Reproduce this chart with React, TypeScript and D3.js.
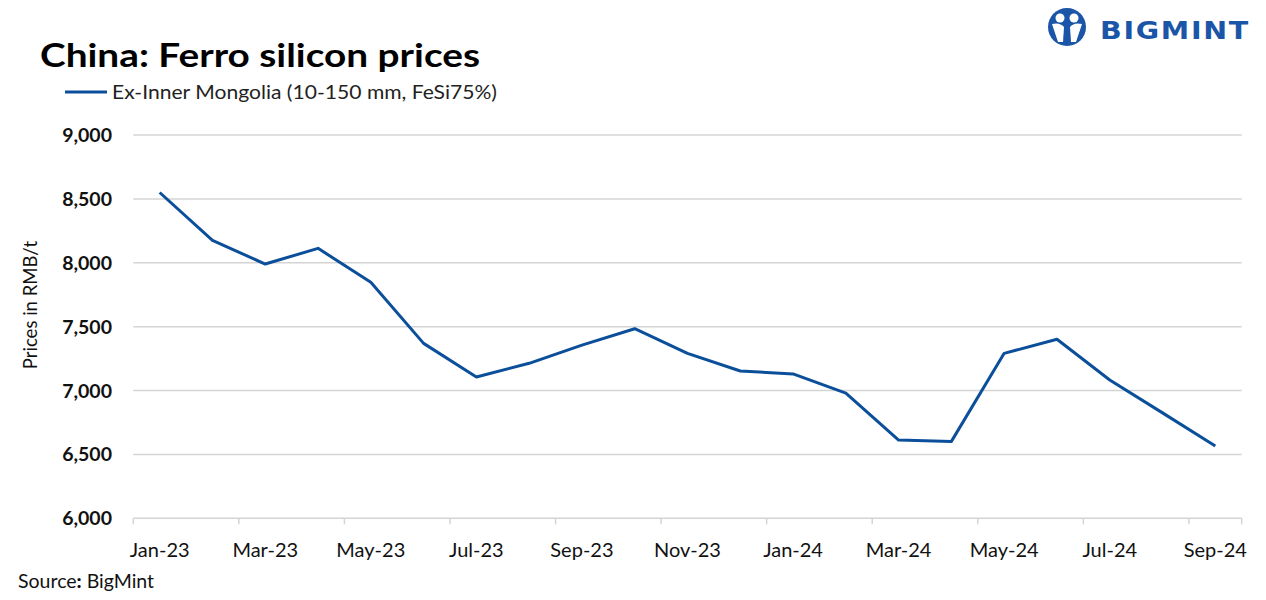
import React from "react";
import * as d3 from "d3";

const months = ["Jan-23","Feb-23","Mar-23","Apr-23","May-23","Jun-23","Jul-23","Aug-23","Sep-23","Oct-23","Nov-23","Dec-23","Jan-24","Feb-24","Mar-24","Apr-24","May-24","Jun-24","Jul-24","Aug-24","Sep-24"];
const prices = [8550,8175,7990,8113,7847,7369,7106,7213,7355,7484,7291,7153,7130,6980,6612,6602,7291,7401,7082,6825,6566];
const yTicks = [6000,6500,7000,7500,8000,8500,9000];
const seriesName = "Ex-Inner Mongolia (10-150 mm, FeSi75%)";

const W = 1266, H = 600;
const left = 133.3, right = 1241.7, top = 135, bottom = 518.3;
const font = "Lato, 'Open Sans', sans-serif";
const lineColor = "#0b4f9a";

export default function App() {
  const x = d3.scaleBand<string>().domain(months).range([left, right]).padding(0);
  const y = d3.scaleLinear().domain([6000, 9000]).range([bottom, top]);
  const line = d3.line<number>().x((_, i) => (x(months[i]) as number) + x.bandwidth() / 2).y(d => y(d));
  const fmt = d3.format(",");
  const tickIdx = months.map((_, i) => i).filter(i => i % 2 === 0);

  return (
    <svg width={W} height={H} style={{ position: "absolute", left: 0, top: 0, background: "#fff" }} fontFamily={font}>
      <rect width={W} height={H} fill="#fff" />
      {/* Logo */}
      <g>
        <circle cx={1067} cy={27} r={19} fill="#1b55a8" />
        <circle cx={1060} cy={18} r={4.5} fill="#fff" />
        <circle cx={1074} cy={18} r={4.5} fill="#fff" />
        <path d="M1052,24 Q1060,22 1064,27 L1063,42 L1058,42 Z" fill="#fff" />
        <path d="M1082,24 Q1074,22 1070,27 L1071,42 L1076,42 Z" fill="#fff" />
        <text x={1100} y={39} fontSize={25} fontWeight={900} fill="#1b55a8" fontFamily="'DejaVu Sans', sans-serif" textLength={150} lengthAdjust="spacingAndGlyphs" letterSpacing={1.5}>BIGMINT</text>
      </g>
      {/* Title */}
      <text x={40} y={67} fontSize={33} fontWeight={700} fill="#000" textLength={440} lengthAdjust="spacingAndGlyphs">China: Ferro silicon prices</text>
      {/* Legend */}
      <line x1={65} x2={107} y1={92} y2={92} stroke={lineColor} strokeWidth={3} />
      <text x={112} y={99} fontSize={19} fill="#222" textLength={385} lengthAdjust="spacingAndGlyphs">{seriesName}</text>
      {/* Gridlines */}
      {yTicks.map(t => (
        <line key={t} x1={left} x2={right} y1={y(t)} y2={y(t)} stroke="#d4d4d4" strokeWidth={1.5} />
      ))}
      {/* X tick marks */}
      {tickIdx.map(i => (
        <line key={i} x1={x(months[i]) as number} x2={x(months[i]) as number} y1={bottom} y2={bottom + 6} stroke="#d4d4d4" strokeWidth={1.5} />
      ))}
      <line x1={right} x2={right} y1={bottom} y2={bottom + 6} stroke="#d4d4d4" strokeWidth={1.5} />
      {/* Y labels */}
      {yTicks.map(t => (
        <text key={t} x={112} y={y(t) + 7} fontSize={19.5} fontWeight={700} textAnchor="end" fill="#111">{fmt(t)}</text>
      ))}
      {/* X labels */}
      {tickIdx.map(i => (
        <text key={i} x={(x(months[i]) as number) + x.bandwidth() / 2} y={557} fontSize={20} textAnchor="middle" fill="#111">{months[i]}</text>
      ))}
      {/* Y title */}
      <text transform={`translate(37,305) rotate(-90)`} fontSize={18.5} textAnchor="middle" fill="#111">Prices in RMB/t</text>
      {/* Line */}
      <path d={line(prices) || ""} fill="none" stroke={lineColor} strokeWidth={3} strokeLinejoin="round" />
      {/* Source */}
      <text x={18} y={588} fontSize={19.5} fill="#111">Source<tspan fontWeight={900}>:</tspan> BigMint</text>
    </svg>
  );
}
